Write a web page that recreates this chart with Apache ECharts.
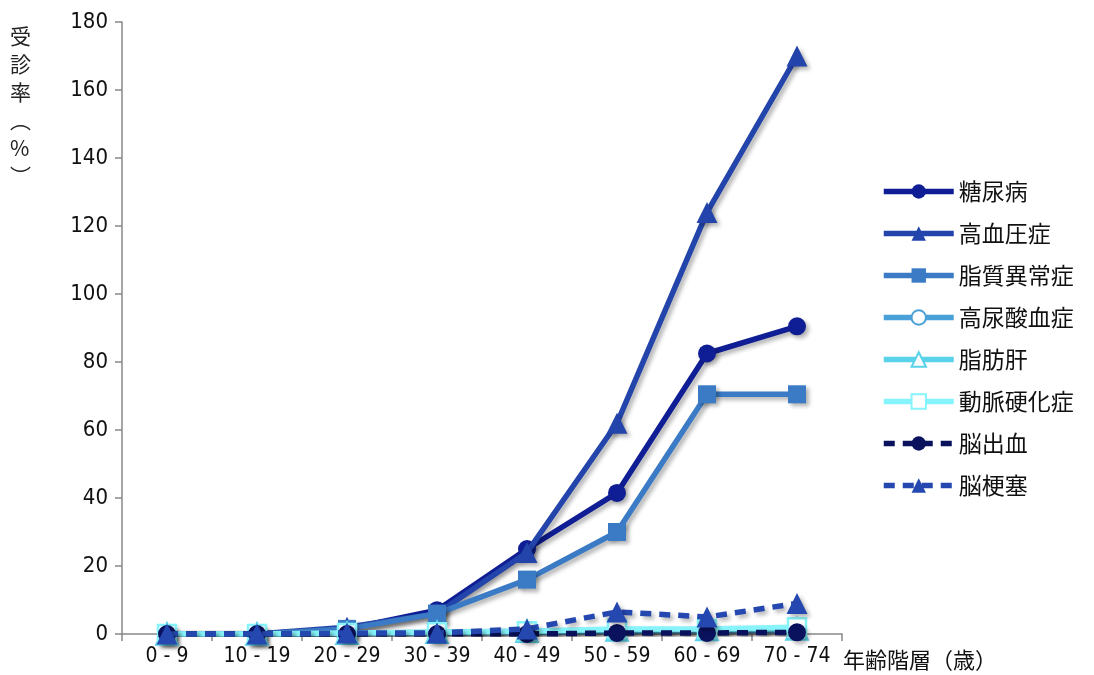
<!DOCTYPE html>
<html><head><meta charset="utf-8">
<script src="https://cdn.jsdelivr.net/npm/echarts@6/dist/echarts.min.js"></script>
<style>html,body{margin:0;padding:0;background:#fff}#c{width:1094px;height:675px}</style>
</head><body><div id="c"></div>
<script>
const categories = ['0 - 9','10 - 19','20 - 29','30 - 39','40 - 49','50 - 59','60 - 69','70 - 74'];
const yTicks = [0,20,40,60,80,100,120,140,160,180];
const diabetes      = [0, 0, 1.5, 7, 25, 41.5, 82.5, 90.5];
const hypertension  = [0, 0, 2, 6, 24, 62, 124, 170];
const dyslipidemia  = [0, 0, 1.5, 6, 16, 30, 70.5, 70.5];
const hyperuricemia = [0, 0, 0, 0.3, 0.5, 0.8, 1, 1];
const fattyLiver    = [0, 0, 0.2, 0.5, 0.8, 1.2, 1.3, 1.5];
const arterio       = [0, 0, 0.3, 0.5, 0.8, 1.5, 1.5, 2];
const cerebHem      = [0, 0, 0, 0, 0, 0.3, 0.3, 0.5];
const cerebInf      = [0, 0, 0.3, 0.3, 1.5, 6.5, 5, 9];

const names = ['糖尿病','高血圧症','脂質異常症','高尿酸血症','脂肪肝','動脈硬化症','脳出血','脳梗塞'];
const datas = [diabetes, hypertension, dyslipidemia, hyperuricemia, fattyLiver, arterio, cerebHem, cerebInf];
const colors = ['#0f1e94','#2345ab','#3b7bc6','#4aa0d8','#5ad2ea','#86f4fa','#0a125e','#2448b0'];
const symbols = ['circle','triangle','rect','emptyCircle','emptyTriangle','emptyRect','circle','triangle'];
const dashed = [false,false,false,false,false,false,true,true];

const numFont = '"DejaVu Sans Condensed","Liberation Sans Narrow",sans-serif';
const cjkFont = '"Noto Sans CJK JP","Noto Sans",sans-serif';
const sh = {shadowColor:'rgba(0,0,0,0.3)', shadowBlur:4, shadowOffsetX:3, shadowOffsetY:3};

const series = names.map((n,i)=>{
  const empty = symbols[i].startsWith('empty');
  const sym = empty ? symbols[i].slice(5).toLowerCase() : symbols[i];
  return {
    name:n, type:'line', data:datas[i],
    symbol: sym,
    symbolSize: sym === 'triangle' ? 21 : 18,
    lineStyle:Object.assign({color:colors[i], width:5.5, type: dashed[i] ? [11,8] : 'solid'}, sh),
    itemStyle: empty
      ? {color:'#ffffff', borderColor:colors[i], borderWidth:2.5}
      : Object.assign({color:colors[i]}, sh),
    emphasis:{disabled:true}, animation:false, z: 2+i
  };
});

const chart = echarts.init(document.getElementById('c'));
chart.setOption({
  backgroundColor:'#fff',
  animation:false,
  grid:{left:122, top:22, right:252, bottom:41, containLabel:false},
  xAxis:{type:'category', data:categories, boundaryGap:true,
    axisLine:{lineStyle:{color:'#888', width:1.5}},
    axisTick:{show:true, inside:false, length:7, lineStyle:{color:'#888', width:1.5}},
    axisLabel:{color:'#111', fontFamily:numFont, fontSize:21, margin:12, interval:0}},
  yAxis:{type:'value', min:0, max:180, interval:20,
    axisLine:{show:true, lineStyle:{color:'#888', width:1.5}},
    axisTick:{show:true, length:7, lineStyle:{color:'#888', width:1.5}},
    splitLine:{show:false},
    axisLabel:{color:'#111', fontFamily:numFont, fontSize:22, margin:14,
      formatter:v=> yTicks.includes(v) ? String(v) : ''}},
  legend:{orient:'vertical', left:876, top:175, itemWidth:70, itemHeight:18, itemGap:19,
    lineStyle:{width:5.5},
    textStyle:{fontFamily:cjkFont, fontSize:23, lineHeight:22, color:'#111', padding:[0,0,0,0]},
    data:names},
  graphic:[
    {type:'text', left:10, top:22, style:{text:'受\n診\n率\n︵\n%\n︶', font:'21px "Noto Sans CJK JP"', lineHeight:28, fill:'#222', align:'center'}},
    {type:'text', left:843, top:649, style:{text:'年齢階層（歳）', font:'22px "Noto Sans CJK JP"', fill:'#111'}}
  ],
  series
});
</script></body></html>
